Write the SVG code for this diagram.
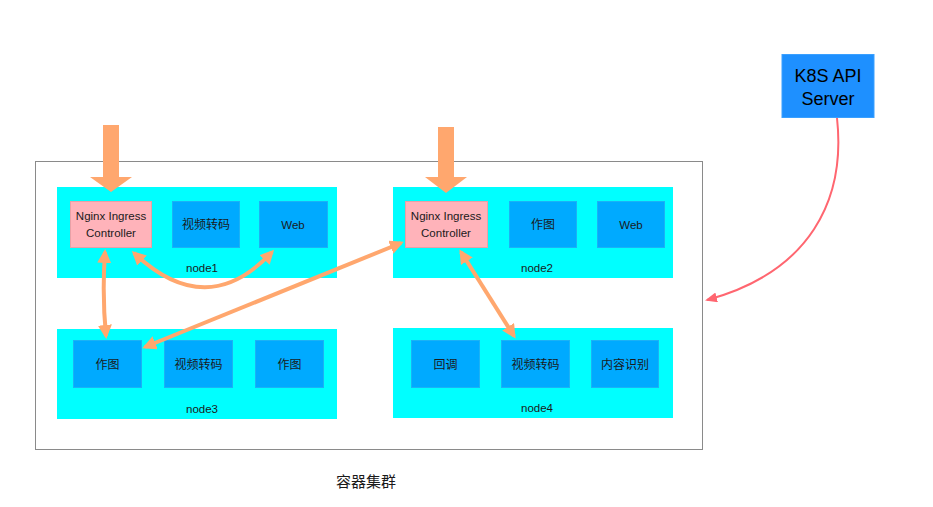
<svg xmlns="http://www.w3.org/2000/svg" width="933" height="507" viewBox="0 0 933 507">
<style>
.node{fill:#00FFFF;}
.svc{fill:#00AAFF;stroke:#1BB2F5;stroke-width:1;}
.ing{fill:#FFB3BA;stroke:#E8A0A6;stroke-width:1;}
.t{font-family:"Liberation Sans","Noto Sans CJK SC",sans-serif;font-size:12px;fill:#1a1a1a;text-anchor:middle;}
.ts{font-family:"Liberation Sans","Noto Sans CJK SC",sans-serif;font-size:11.5px;fill:#1a1a1a;text-anchor:middle;}
.conn{fill:none;stroke:#FFA76E;stroke-width:4;marker-start:url(#oa);marker-end:url(#oa);}
.big{fill:#FFA76E;}
</style>
<defs>
<marker id="oa" viewBox="0 0 14 14" refX="11" refY="7" markerWidth="14" markerHeight="14" markerUnits="userSpaceOnUse" orient="auto-start-reverse">
<path d="M0,0 L14,7 L0,14 z" fill="#FFA76E"/>
</marker>
<marker id="ra" viewBox="0 0 12 10" refX="10" refY="5" markerWidth="12" markerHeight="10" markerUnits="userSpaceOnUse" orient="auto">
<path d="M0,0 L12,5 L0,10 z" fill="#FF6670"/>
</marker>
</defs>
<rect width="933" height="507" fill="#FFFFFF"/>
<g id="cluster">
<rect x="35.5" y="161.5" width="667" height="288" fill="none" stroke="#8a8a8a" stroke-width="1"/>
<text x="366" y="487" class="t" style="font-size:15px">容器集群</text>
</g>
<g id="node1">
<rect class="node" x="57" y="187" width="280" height="91"/>
<rect class="ing" x="70.5" y="201.5" width="81" height="46"/>
<text class="ts" x="111" y="220">Nginx Ingress</text>
<text class="ts" x="111" y="237">Controller</text>
<rect class="svc" x="172.5" y="201.5" width="67" height="46"/>
<text class="t" x="206" y="229">视频转码</text>
<rect class="svc" x="259.5" y="201.5" width="68" height="46"/>
<text class="ts" x="293" y="229">Web</text>
<text class="ts" x="202" y="272">node1</text>
</g>
<g id="node2">
<rect class="node" x="393" y="187" width="280" height="91"/>
<rect class="ing" x="405.5" y="201.5" width="82" height="46"/>
<text class="ts" x="446" y="220">Nginx Ingress</text>
<text class="ts" x="446" y="237">Controller</text>
<rect class="svc" x="509.5" y="201.5" width="67" height="46"/>
<text class="t" x="543" y="229">作图</text>
<rect class="svc" x="597.5" y="201.5" width="67" height="46"/>
<text class="ts" x="631" y="229">Web</text>
<text class="ts" x="537" y="272">node2</text>
</g>
<g id="node3">
<rect class="node" x="57" y="329" width="280" height="90"/>
<rect class="svc" x="73.5" y="340.5" width="68" height="47"/>
<text class="t" x="107.5" y="369">作图</text>
<rect class="svc" x="164.5" y="340.5" width="68" height="47"/>
<text class="t" x="198.5" y="369">视频转码</text>
<rect class="svc" x="255.5" y="340.5" width="68" height="47"/>
<text class="t" x="289.5" y="369">作图</text>
<text class="ts" x="202" y="413">node3</text>
</g>
<g id="node4">
<rect class="node" x="393" y="328" width="280" height="90"/>
<rect class="svc" x="411.5" y="340.5" width="68" height="47"/>
<text class="t" x="445.5" y="369">回调</text>
<rect class="svc" x="501.5" y="340.5" width="68" height="47"/>
<text class="t" x="535.5" y="369">视频转码</text>
<rect class="svc" x="591.5" y="340.5" width="67" height="47"/>
<text class="t" x="625" y="369">内容识别</text>
<text class="ts" x="537" y="412">node4</text>
</g>
<g id="k8s">
<rect x="782" y="54.5" width="92" height="63" fill="#1E90FF" stroke="#3AA0FF" stroke-width="1"/>
<text x="828" y="82" style="font-family:'Liberation Sans',sans-serif;font-size:18px;fill:#000;text-anchor:middle">K8S API</text>
<text x="828" y="105" style="font-family:'Liberation Sans',sans-serif;font-size:18px;fill:#000;text-anchor:middle">Server</text>
</g>
<g id="connectors">
<path class="big" d="M103,125 L119,125 L119,177 L132,177 L111,192 L90,177 L103,177 Z"/>
<path class="big" d="M438,127 L454,127 L454,177 L467,177 L446,193 L425,177 L438,177 Z"/>
<path class="conn" d="M105,252 Q102,295 106,336"/>
<path class="conn" d="M134,253 Q207,322 272,252"/>
<path class="conn" d="M401,243 L145,347"/>
<path class="conn" d="M461,252 L514,336"/>
<path d="M837,118 C846,200 810,272 707,300" fill="none" stroke="#FF6670" stroke-width="2" marker-end="url(#ra)"/>
</g>
</svg>
